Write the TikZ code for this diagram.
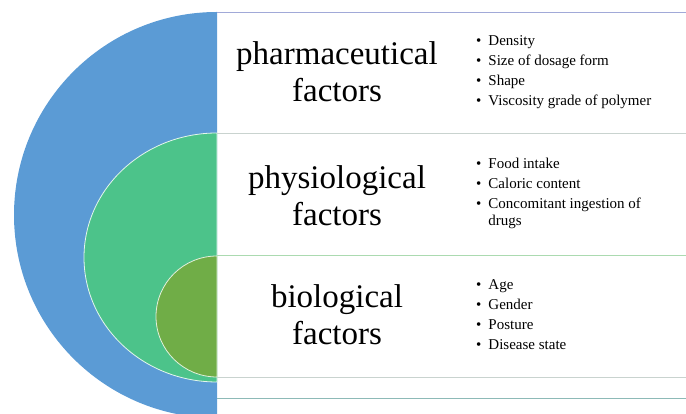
\documentclass[tikz,border=0pt]{standalone}
\usepackage{fontspec}
\setmainfont{Liberation Serif}
\usepackage{tikz}
\definecolor{outerblue}{HTML}{5B9BD5}
\definecolor{midgreen}{HTML}{4CC38A}
\definecolor{innerolive}{HTML}{70AD47}
\definecolor{rulegray}{HTML}{C9D3CF}
\newcommand{\bigtitle}{\fontsize{33}{37}\selectfont}
\newcommand{\smalllist}{\fontsize{15}{20}\selectfont}

\begin{document}
\begin{tikzpicture}[x=1pt,y=1pt]
        \useasboundingbox (0,0) rectangle (686,414);
        \begin{scope}
            \clip (0,0) rectangle (686,414);
            % three half discs
            \fill[outerblue] (217,402) arc[start angle=90,end angle=270,x radius=203,y radius=203] -- cycle;
            \filldraw[midgreen,draw=white!85!midgreen,line width=0.8pt] (217,281) arc[start angle=90,end angle=270,x radius=133,y radius=124.5] -- cycle;
            \filldraw[innerolive,draw=white!80!innerolive,line width=0.8pt] (217,158) arc[start angle=90,end angle=270,x radius=61,y radius=60.5] -- cycle;
        \end{scope}
        % rules of the right panel
        \coordinate (r1) at (217,402); \coordinate (r1e) at (686,402);
        \coordinate (r2) at (217,281); \coordinate (r2e) at (686,281);
        \coordinate (r3) at (217,159); \coordinate (r3e) at (686,159);
        \coordinate (r4) at (217,37);  \coordinate (r4e) at (686,37);
        \coordinate (r5) at (217,16);  \coordinate (r5e) at (686,16);
        \draw[rulegray!80!blue,line width=0.7pt] (r1) -- (r1e);
        \draw[rulegray,line width=0.8pt] (r2) -- (r2e);
        \draw[rulegray!85!green,line width=0.8pt] (r3) -- (r3e);
        \draw[rulegray,line width=0.8pt] (r4) -- (r4e);
        \draw[rulegray!70!teal,line width=0.7pt] (r5) -- (r5e);
        % titles
        \node[align=center,font=\bigtitle] (pharma) at (337,342) {pharmaceutical\\factors};
        \node[align=center,font=\bigtitle] (physio) at (337,218) {physiological\\factors};
        \node[align=center,font=\bigtitle] (bio) at (337,99) {biological\\factors};
        % lists
        \node[anchor=west,font=\smalllist,inner sep=0pt] (pharmalist) at (476,342)
            {\begin{tabular}{@{}l@{\hspace{7pt}}l@{}}
                \textbullet & Density\\
                \textbullet & Size of dosage form\\
                \textbullet & Shape\\
                \textbullet & Viscosity grade of polymer
            \end{tabular}};
        \node[anchor=west,font=\smalllist,inner sep=0pt] (physiolist) at (476,221)
            {\begin{tabular}{@{}l@{\hspace{7pt}}l@{}}
                \textbullet & Food intake\\
                \textbullet & Caloric content\\
                \textbullet & Concomitant ingestion of\\[-3pt]
                & drugs
            \end{tabular}};
        \node[anchor=west,font=\smalllist,inner sep=0pt] (biolist) at (476,98)
            {\begin{tabular}{@{}l@{\hspace{7pt}}l@{}}
                \textbullet & Age\\
                \textbullet & Gender\\
                \textbullet & Posture\\
                \textbullet & Disease state
            \end{tabular}};
    \end{tikzpicture}
\end{document}
